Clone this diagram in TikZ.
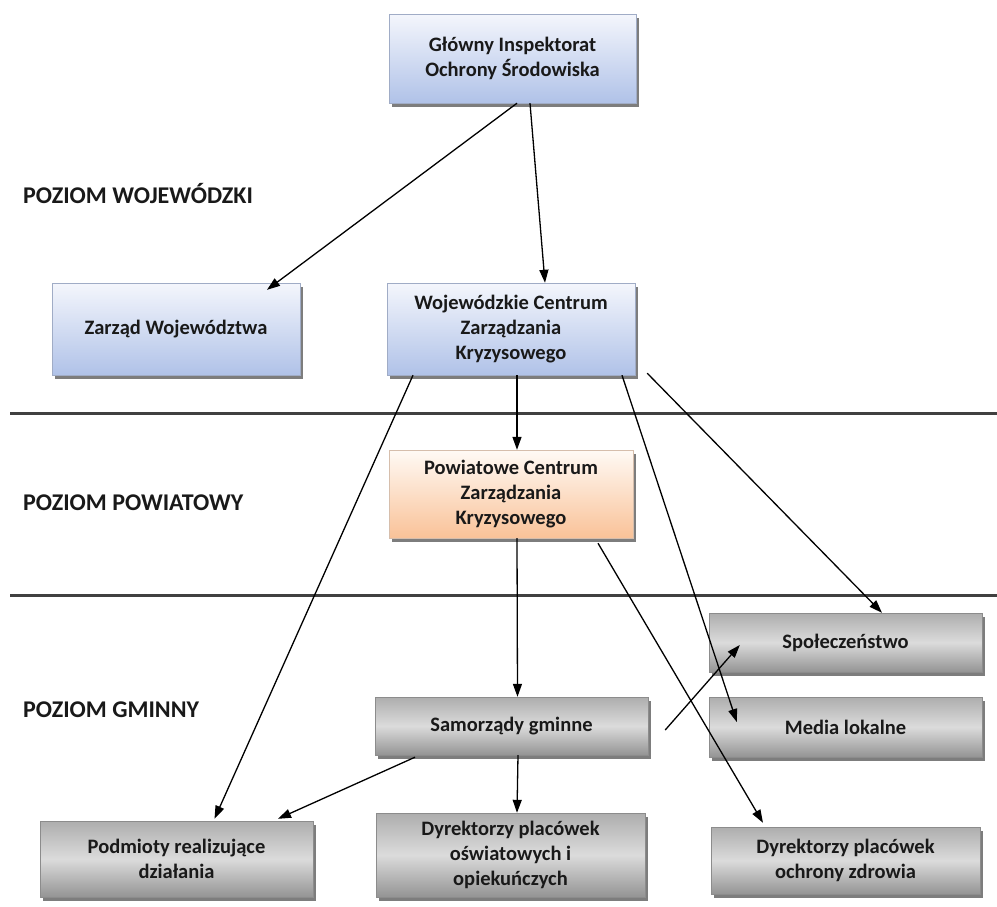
\documentclass[tikz,border=0pt]{standalone}
\usepackage{fontspec}
\setmainfont{Carlito}
\usetikzlibrary{shadows,arrows.meta}

\definecolor{blueTop}{RGB}{244,246,252}
\definecolor{blueBot}{RGB}{176,194,232}
\definecolor{blueEdge}{RGB}{160,172,198}
\definecolor{orangeTop}{RGB}{255,250,245}
\definecolor{orangeBot}{RGB}{249,194,152}
\definecolor{orangeEdge}{RGB}{214,190,172}

\tikzset{
    box/.style={inner sep=0pt, align=center, text=black!90,
        font=\fontsize{20.5}{25}\selectfont\bfseries,
        drop shadow={shadow xshift=3pt, shadow yshift=-4pt, fill=black!60, opacity=0.85}},
    bluebox/.style={box, draw=blueEdge, top color=blueTop, bottom color=blueBot},
    orangebox/.style={box, draw=orangeEdge, top color=orangeTop, bottom color=orangeBot},
    graybox/.style={box, draw=black!45, top color=black!32, bottom color=black!42, middle color=black!14},
    level/.style={anchor=west, inner sep=0pt, font=\fontsize{24}{28}\selectfont\bfseries, text=black!90},
    sepline/.style={line width=3pt, draw=black!75},
    arr/.style={-{Triangle[length=13pt,width=9pt]}, line width=1.3pt}
}

\begin{document}
\begin{tikzpicture}[x=1pt, y=-1pt]
\useasboundingbox (0,0) rectangle (997,906);

% poziomy
\node[level] (lvlwoj) at (23,193) {POZIOM WOJEWÓDZKI};
\node[level] (lvlpow) at (23,503) {POZIOM POWIATOWY};
\node[level] (lvlgmi) at (23,710) {POZIOM GMINNY};

\draw[sepline] (10,413) -- (997,413);
\draw[sepline] (10,595) -- (997,595);

% jednostki
\node[bluebox, minimum width=247, minimum height=89] (gios) at (512.5,58.5) {Główny Inspektorat\\Ochrony Środowiska};
\node[bluebox, minimum width=248, minimum height=92] (zarzad) at (176,329) {Zarząd Województwa};
\node[bluebox, minimum width=248, minimum height=92] (wczk) at (511,329) {Wojewódzkie Centrum\\Zarządzania\\Kryzysowego};
\node[orangebox, minimum width=244, minimum height=88] (pczk) at (511,494) {Powiatowe Centrum\\Zarządzania\\Kryzysowego};

\node[graybox, minimum width=273, minimum height=59] (spol) at (845.5,642.5) {Społeczeństwo};
\node[graybox, minimum width=273, minimum height=60] (media) at (845.5,727) {Media lokalne};
\node[graybox, minimum width=273, minimum height=58] (samorz) at (511.5,726) {Samorządy gminne};
\node[graybox, minimum width=273, minimum height=76] (podm) at (176.5,859) {Podmioty realizujące\\działania};
\node[graybox, minimum width=269, minimum height=84] (dyrosw) at (510.5,855) {Dyrektorzy placówek\\oświatowych i\\opiekuńczych};
\node[graybox, minimum width=269, minimum height=67] (dyrzdr) at (845.5,860.5) {Dyrektorzy placówek\\ochrony zdrowia};

% powiazania
\draw[arr] ([xshift=4.5pt]gios.south) -- ([xshift=91pt,yshift=-7pt]zarzad.north);
\draw[arr] ([xshift=17.5pt]gios.south) -- ([xshift=34pt]wczk.north);
\draw[arr] ([xshift=6pt]wczk.south) -- ([xshift=6pt]pczk.north);
\draw[arr] ([xshift=-98pt]wczk.south) -- ([xshift=38pt,yshift=2pt]podm.north);
\draw[arr] ([xshift=111pt]wczk.south) -- ([xshift=28pt,yshift=5pt]media.west);
\draw[arr] ([xshift=12pt,yshift=2pt]wczk.south east) -- ([xshift=36.5pt]spol.north);
\draw[arr] ([xshift=6pt]pczk.south) -- ([xshift=6pt]samorz.north);
\draw[arr] ([xshift=87pt,yshift=-5pt]pczk.south) -- ([xshift=-82.5pt,yshift=4pt]dyrzdr.north);
\draw[arr] ([xshift=-96.5pt,yshift=-2pt]samorz.south) -- ([xshift=101.5pt,yshift=2pt]podm.north);
\draw[arr] ([xshift=6.5pt]samorz.south) -- ([xshift=6.5pt]dyrosw.north);
\draw[arr] ([xshift=17pt,yshift=-4pt]samorz.east) -- ([xshift=31pt,yshift=-2.5pt]spol.west);
\end{tikzpicture}
\end{document}
